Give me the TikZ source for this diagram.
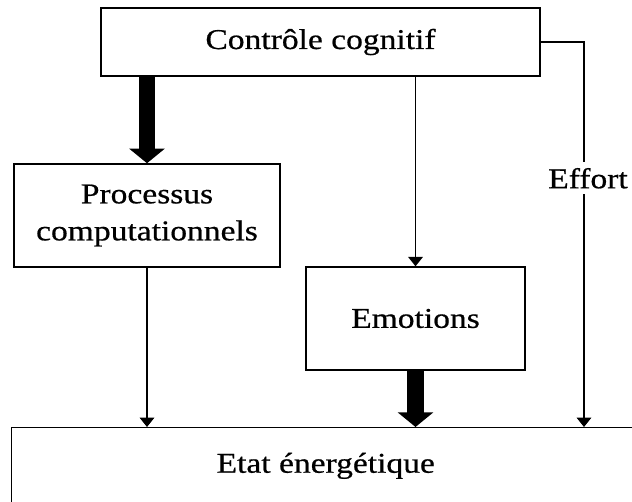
\documentclass[tikz,border=0pt]{standalone}
\usepackage{fontspec}
\setmainfont{Liberation Serif}[FakeStretch=1.17,FakeBold=0.6]
\usepackage{tikz}
\usetikzlibrary{arrows.meta}
\definecolor{ink}{HTML}{000000}
\tikzset{
  box/.style={draw=ink, line width=1.1pt, rectangle, inner sep=0pt, align=center},
  bigarr/.style={draw=ink, line width=12.4pt, -{Triangle[width=26.25pt,length=11pt]}},
  smallarr/.style={draw=ink, line width=0.8pt, -{Triangle[width=11pt,length=7pt]}},
  lab/.style={text=ink, font=\fontsize{21.5}{27.75}\selectfont},
}

\begin{document}
\begin{tikzpicture}[x=0.75pt,y=-0.75pt]
  \useasboundingbox (0,0) rectangle (632,502);
  \clip (0,0) rectangle (632,502);
  \node[box,lab,minimum width=329.25pt,minimum height=51pt] (ctrl) at (320.5,42) {Contrôle cognitif};
  \node[box,lab,minimum width=199.5pt,minimum height=77.25pt] (proc) at (147,215.5) {Processus\\computationnels};
  \node[box,lab,minimum width=164.25pt,minimum height=77.25pt] (emo) at (415.5,318.5) {Emotions};
  \node[box,lab,anchor=north west,minimum width=471pt,text height=33.75pt,text depth=60pt] (etat) at (11,427) {Etat énergétique};
  \coordinate (effin) at (584,427);
  \draw[bigarr] (ctrl.south -| proc.north) -- (proc.north);
  \draw[smallarr] (ctrl.south -| emo.north) -- (emo.north);
  \draw[smallarr] (proc.south) -- (proc.south |- etat.north);
  \draw[bigarr] (emo.south) -- (emo.south |- etat.north);
  \draw[smallarr] (ctrl.east) -| node[lab,pos=0.677,fill=white,inner xsep=1pt,inner ysep=4.2pt,xshift=3pt] (eff) {Effort} (effin);
\end{tikzpicture}
\end{document}
